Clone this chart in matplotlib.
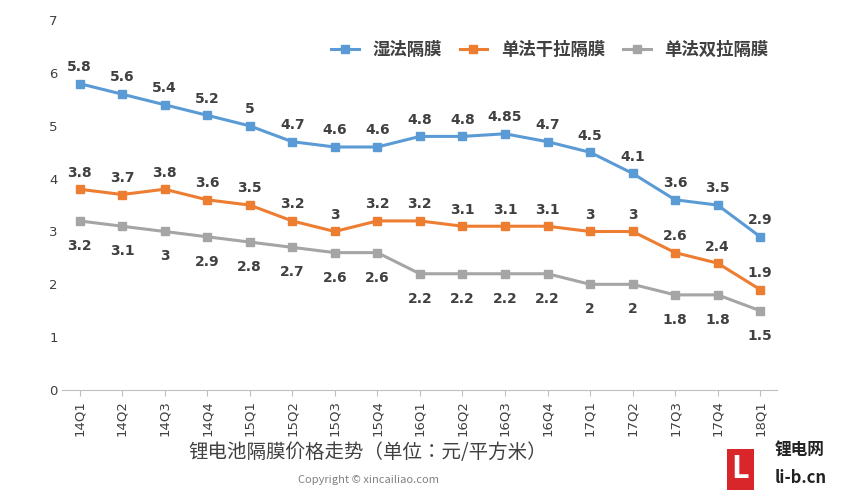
import matplotlib
matplotlib.use("Agg")
from matplotlib import pyplot as plt
from matplotlib import font_manager

cjk = [f.name for f in font_manager.fontManager.ttflist if "CJK" in f.name]
plt.rcParams["font.family"] = sorted(set(cjk)) + ["DejaVu Sans"]

quarters = ["14Q1", "14Q2", "14Q3", "14Q4", "15Q1", "15Q2", "15Q3", "15Q4", "16Q1",
            "16Q2", "16Q3", "16Q4", "17Q1", "17Q2", "17Q3", "17Q4", "18Q1"]
wet = [5.8, 5.6, 5.4, 5.2, 5, 4.7, 4.6, 4.6, 4.8, 4.8, 4.85, 4.7, 4.5, 4.1, 3.6, 3.5, 2.9]
dry_single = [3.8, 3.7, 3.8, 3.6, 3.5, 3.2, 3, 3.2, 3.2, 3.1, 3.1, 3.1, 3, 3, 2.6, 2.4, 1.9]
dry_double = [3.2, 3.1, 3, 2.9, 2.8, 2.7, 2.6, 2.6, 2.2, 2.2, 2.2, 2.2, 2, 2, 1.8, 1.8, 1.5]
names = ["湿法隔膜", "单法干拉隔膜", "单法双拉隔膜"]

fig = plt.figure(figsize=(8.56, 4.93), dpi=100)
ax = fig.add_axes([0.073, 0.209, 0.835, 0.75])
x = list(range(len(quarters)))

series = [(wet, "#5b9bd5", 12), (dry_single, "#ed7d31", 12), (dry_double, "#a5a5a5", -18)]
for (vals, color, off), name in zip(series, names):
    ax.plot(x, vals, color=color, lw=2.2, marker="s", ms=6, label=name)
    for xi, v in zip(x, vals):
        ax.annotate(f"{v:g}", (xi, v), textcoords="offset points", xytext=(0, off),
                    ha="center", va="center", fontsize=10, fontweight="bold",
                    color="#404040", family="DejaVu Sans")

ax.set_xlim(-0.4, 16.4)
ax.set_ylim(0, 7)
ax.set_yticks(range(8))
ax.set_xticks(x)
ax.set_xticklabels(quarters, rotation=90, fontsize=9.5, color="#404040", family="DejaVu Sans")
for t in ax.get_yticklabels():
    t.set_family("DejaVu Sans")
ax.tick_params(axis="y", labelsize=9.5, colors="#404040", length=0)
ax.tick_params(axis="x", length=4, color="#bfbfbf")
for s in ["top", "right", "left"]:
    ax.spines[s].set_visible(False)
ax.spines["bottom"].set_color("#bfbfbf")

ax.legend(loc="upper right", bbox_to_anchor=(1.01, 0.985), ncol=3, frameon=False,
          prop={"size": 12.5, "weight": "bold"}, handlelength=1.6, columnspacing=1.0,
          labelcolor="#404040")

fig.text(0.43, 0.07, "锂电池隔膜价格走势（单位：元/平方米）", ha="center", fontsize=14, color="#404040")
fig.text(0.43, 0.02, "Copyright © xincailiao.com", ha="center", fontsize=8, color="#808080")

fig.text(0.865, 0.03, "L", ha="center", fontsize=22, fontweight="bold", color="white",
         bbox=dict(boxstyle="square,pad=0.15", fc="#d9262b", ec="none"))
fig.text(0.905, 0.075, "锂电网", fontsize=12, fontweight="bold", color="#222222")
fig.text(0.905, 0.02, "li-b.cn", fontsize=12, fontweight="bold", color="#222222")

fig.savefig("out.png", dpi=100)
